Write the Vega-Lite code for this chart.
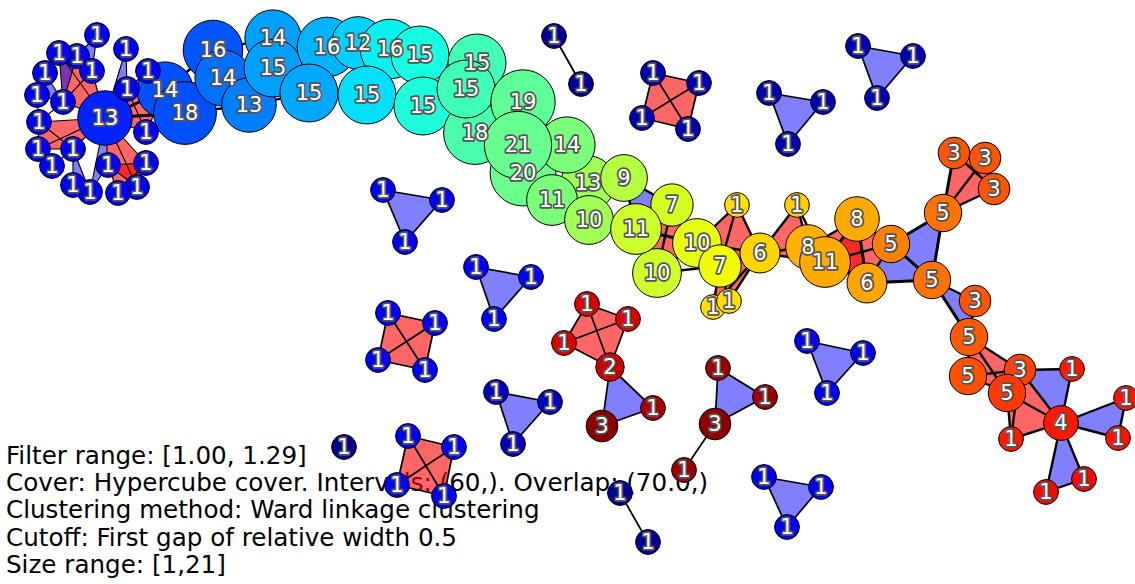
{
  "$schema": "https://vega.github.io/schema/vega-lite/v6.json",
  "width": 1135,
  "height": 584,
  "padding": 0,
  "autosize": {"type": "none"},
  "background": "white",
  "config": {"view": {"stroke": null}},
  "datasets": {
    "nodes": [
      {"id": "L0", "x": 105, "y": 118, "n": 13, "f": 0.158},
      {"id": "C1", "x": 165, "y": 90, "n": 14, "f": 0.204},
      {"id": "C2", "x": 185, "y": 113, "n": 18, "f": 0.204},
      {"id": "C3", "x": 213, "y": 50, "n": 16, "f": 0.208},
      {"id": "C4", "x": 223, "y": 78, "n": 14, "f": 0.235},
      {"id": "C5", "x": 249, "y": 105, "n": 13, "f": 0.25},
      {"id": "C6", "x": 273, "y": 38, "n": 14, "f": 0.282},
      {"id": "C7", "x": 273, "y": 68, "n": 15, "f": 0.282},
      {"id": "C9", "x": 327, "y": 47, "n": 16, "f": 0.302},
      {"id": "C8", "x": 309, "y": 93, "n": 15, "f": 0.29},
      {"id": "C10", "x": 358, "y": 43, "n": 12, "f": 0.33},
      {"id": "C12", "x": 390, "y": 49, "n": 16, "f": 0.36},
      {"id": "C13", "x": 420, "y": 55, "n": 15, "f": 0.375},
      {"id": "C11", "x": 367, "y": 95, "n": 15, "f": 0.345},
      {"id": "C14", "x": 423, "y": 106, "n": 15, "f": 0.385},
      {"id": "C17", "x": 475, "y": 133, "n": 18, "f": 0.44},
      {"id": "C15", "x": 477, "y": 63, "n": 15, "f": 0.428},
      {"id": "C16", "x": 466, "y": 89, "n": 15, "f": 0.428},
      {"id": "C18", "x": 523, "y": 102, "n": 19, "f": 0.465},
      {"id": "C20", "x": 523, "y": 173, "n": 20, "f": 0.48},
      {"id": "C23", "x": 588, "y": 183, "n": 13, "f": 0.545},
      {"id": "C22", "x": 552, "y": 200, "n": 11, "f": 0.5},
      {"id": "C21", "x": 567, "y": 145, "n": 14, "f": 0.5},
      {"id": "C19", "x": 518, "y": 145, "n": 21, "f": 0.474},
      {"id": "C24", "x": 624, "y": 178, "n": 9, "f": 0.569},
      {"id": "C25", "x": 589, "y": 220, "n": 10, "f": 0.545},
      {"id": "C26", "x": 672, "y": 205, "n": 7, "f": 0.607},
      {"id": "C28", "x": 697, "y": 243, "n": 10, "f": 0.63},
      {"id": "C29", "x": 657, "y": 273, "n": 10, "f": 0.6},
      {"id": "C27", "x": 636, "y": 229, "n": 11, "f": 0.598},
      {"id": "C31", "x": 737, "y": 205, "n": 1, "f": 0.673},
      {"id": "C30", "x": 720, "y": 266, "n": 7, "f": 0.643},
      {"id": "C34", "x": 760, "y": 253, "n": 6, "f": 0.684},
      {"id": "C32", "x": 713, "y": 307, "n": 1, "f": 0.673},
      {"id": "C33", "x": 729, "y": 301, "n": 1, "f": 0.673},
      {"id": "C35", "x": 797, "y": 205, "n": 1, "f": 0.69},
      {"id": "C36", "x": 808, "y": 247, "n": 8, "f": 0.724},
      {"id": "C38", "x": 857, "y": 219, "n": 8, "f": 0.73},
      {"id": "C37", "x": 825, "y": 262, "n": 11, "f": 0.73},
      {"id": "C39", "x": 867, "y": 283, "n": 6, "f": 0.735},
      {"id": "C40", "x": 891, "y": 244, "n": 5, "f": 0.776},
      {"id": "C41", "x": 943, "y": 213, "n": 5, "f": 0.79},
      {"id": "C42", "x": 932, "y": 280, "n": 5, "f": 0.79},
      {"id": "C43", "x": 954, "y": 153, "n": 3, "f": 0.82},
      {"id": "C44", "x": 985, "y": 158, "n": 3, "f": 0.82},
      {"id": "C45", "x": 994, "y": 189, "n": 3, "f": 0.82},
      {"id": "C46", "x": 975, "y": 301, "n": 3, "f": 0.82},
      {"id": "C47", "x": 969, "y": 337, "n": 5, "f": 0.815},
      {"id": "C48", "x": 968, "y": 376, "n": 5, "f": 0.826},
      {"id": "C49", "x": 1020, "y": 370, "n": 3, "f": 0.84},
      {"id": "C50", "x": 1007, "y": 393, "n": 5, "f": 0.85},
      {"id": "C51", "x": 1061, "y": 423, "n": 4, "f": 0.885},
      {"id": "C52", "x": 1072, "y": 369, "n": 1, "f": 0.885},
      {"id": "C53", "x": 1126, "y": 398, "n": 1, "f": 0.89},
      {"id": "C54", "x": 1118, "y": 438, "n": 1, "f": 0.89},
      {"id": "C55", "x": 1011, "y": 439, "n": 1, "f": 0.88},
      {"id": "C56", "x": 1084, "y": 479, "n": 1, "f": 0.9},
      {"id": "C57", "x": 1046, "y": 492, "n": 1, "f": 0.9},
      {"id": "L4", "x": 77, "y": 56, "n": 1, "f": 0.125},
      {"id": "L3", "x": 59, "y": 53, "n": 1, "f": 0.125},
      {"id": "L1", "x": 97, "y": 35, "n": 1, "f": 0.125},
      {"id": "L6", "x": 92, "y": 71, "n": 1, "f": 0.125},
      {"id": "L2", "x": 126, "y": 49, "n": 1, "f": 0.125},
      {"id": "L7", "x": 148, "y": 71, "n": 1, "f": 0.125},
      {"id": "L8", "x": 127, "y": 89, "n": 1, "f": 0.125},
      {"id": "L5", "x": 45, "y": 73, "n": 1, "f": 0.125},
      {"id": "L9", "x": 37, "y": 95, "n": 1, "f": 0.125},
      {"id": "L10", "x": 63, "y": 102, "n": 1, "f": 0.125},
      {"id": "L11", "x": 39, "y": 122, "n": 1, "f": 0.125},
      {"id": "L12", "x": 146, "y": 132, "n": 1, "f": 0.125},
      {"id": "L13", "x": 38, "y": 149, "n": 1, "f": 0.125},
      {"id": "L14", "x": 73, "y": 149, "n": 1, "f": 0.125},
      {"id": "L15", "x": 52, "y": 166, "n": 1, "f": 0.125},
      {"id": "L16", "x": 108, "y": 165, "n": 1, "f": 0.125},
      {"id": "L17", "x": 146, "y": 163, "n": 1, "f": 0.125},
      {"id": "L21", "x": 137, "y": 187, "n": 1, "f": 0.125},
      {"id": "L19", "x": 90, "y": 192, "n": 1, "f": 0.125},
      {"id": "L20", "x": 118, "y": 193, "n": 1, "f": 0.125},
      {"id": "L18", "x": 73, "y": 185, "n": 1, "f": 0.125},
      {"id": "A1", "x": 554, "y": 36, "n": 1, "f": 0.02},
      {"id": "A2", "x": 581, "y": 84, "n": 1, "f": 0.02},
      {"id": "Q1a", "x": 653, "y": 73, "n": 1, "f": 0.043},
      {"id": "Q1b", "x": 699, "y": 83, "n": 1, "f": 0.043},
      {"id": "Q1c", "x": 688, "y": 129, "n": 1, "f": 0.043},
      {"id": "Q1d", "x": 642, "y": 118, "n": 1, "f": 0.043},
      {"id": "T1a", "x": 769, "y": 93, "n": 1, "f": 0.043},
      {"id": "T1b", "x": 823, "y": 102, "n": 1, "f": 0.043},
      {"id": "T1c", "x": 788, "y": 144, "n": 1, "f": 0.043},
      {"id": "T2a", "x": 858, "y": 46, "n": 1, "f": 0.046},
      {"id": "T2b", "x": 913, "y": 56, "n": 1, "f": 0.046},
      {"id": "T2c", "x": 877, "y": 98, "n": 1, "f": 0.046},
      {"id": "T3a", "x": 383, "y": 190, "n": 1, "f": 0.1},
      {"id": "T3b", "x": 442, "y": 200, "n": 1, "f": 0.1},
      {"id": "T3c", "x": 405, "y": 242, "n": 1, "f": 0.1},
      {"id": "T4a", "x": 476, "y": 267, "n": 1, "f": 0.11},
      {"id": "T4b", "x": 531, "y": 277, "n": 1, "f": 0.11},
      {"id": "T4c", "x": 494, "y": 319, "n": 1, "f": 0.11},
      {"id": "Q2a", "x": 388, "y": 313, "n": 1, "f": 0.11},
      {"id": "Q2b", "x": 435, "y": 323, "n": 1, "f": 0.11},
      {"id": "Q2c", "x": 425, "y": 370, "n": 1, "f": 0.11},
      {"id": "Q2d", "x": 378, "y": 360, "n": 1, "f": 0.11},
      {"id": "Q3a", "x": 587, "y": 304, "n": 1, "f": 0.92},
      {"id": "Q3b", "x": 628, "y": 319, "n": 1, "f": 0.92},
      {"id": "Q3d", "x": 564, "y": 343, "n": 1, "f": 0.92},
      {"id": "Q3c", "x": 610, "y": 367, "n": 2, "f": 0.935},
      {"id": "T5b", "x": 653, "y": 408, "n": 1, "f": 0.965},
      {"id": "T5c", "x": 602, "y": 426, "n": 3, "f": 0.99},
      {"id": "T6a", "x": 496, "y": 392, "n": 1, "f": 0.06},
      {"id": "T6b", "x": 550, "y": 402, "n": 1, "f": 0.06},
      {"id": "T6c", "x": 513, "y": 444, "n": 1, "f": 0.06},
      {"id": "S1", "x": 344, "y": 447, "n": 1, "f": 0.01},
      {"id": "Q4a", "x": 408, "y": 436, "n": 1, "f": 0.11},
      {"id": "Q4b", "x": 454, "y": 447, "n": 1, "f": 0.11},
      {"id": "Q4c", "x": 444, "y": 496, "n": 1, "f": 0.11},
      {"id": "Q4d", "x": 397, "y": 485, "n": 1, "f": 0.11},
      {"id": "T7a", "x": 718, "y": 368, "n": 1, "f": 0.975},
      {"id": "T7b", "x": 765, "y": 397, "n": 1, "f": 0.975},
      {"id": "T7c", "x": 715, "y": 424, "n": 3, "f": 0.99},
      {"id": "D1", "x": 684, "y": 470, "n": 1, "f": 0.975},
      {"id": "B1", "x": 620, "y": 493, "n": 1, "f": 0.02},
      {"id": "B2", "x": 648, "y": 542, "n": 1, "f": 0.02},
      {"id": "T8a", "x": 807, "y": 341, "n": 1, "f": 0.1},
      {"id": "T8b", "x": 863, "y": 353, "n": 1, "f": 0.1},
      {"id": "T8c", "x": 827, "y": 393, "n": 1, "f": 0.1},
      {"id": "T9a", "x": 764, "y": 477, "n": 1, "f": 0.1},
      {"id": "T9b", "x": 821, "y": 487, "n": 1, "f": 0.1},
      {"id": "T9c", "x": 787, "y": 527, "n": 1, "f": 0.1}
    ],
    "edges": [
      {"a": "L1", "b": "L4", "w": 1}, {"a": "L1", "b": "L6", "w": 1}, {"a": "L4", "b": "L6", "w": 1},
      {"a": "L3", "b": "L4", "w": 1}, {"a": "L3", "b": "L10", "w": 1}, {"a": "L4", "b": "L10", "w": 1},
      {"a": "L3", "b": "L6", "w": 1}, {"a": "L3", "b": "L0", "w": 1}, {"a": "L6", "b": "L0", "w": 1},
      {"a": "L6", "b": "L10", "w": 1}, {"a": "L0", "b": "L10", "w": 1}, {"a": "L5", "b": "L9", "w": 1},
      {"a": "L5", "b": "L10", "w": 1}, {"a": "L9", "b": "L10", "w": 1}, {"a": "L3", "b": "L5", "w": 1},
      {"a": "L2", "b": "L8", "w": 1}, {"a": "L2", "b": "L0", "w": 1}, {"a": "L8", "b": "L0", "w": 1},
      {"a": "L8", "b": "C1", "w": 1}, {"a": "L8", "b": "L12", "w": 1}, {"a": "L12", "b": "C1", "w": 1},
      {"a": "L0", "b": "L12", "w": 1}, {"a": "L7", "b": "L8", "w": 1}, {"a": "L7", "b": "C1", "w": 1},
      {"a": "L11", "b": "L0", "w": 1}, {"a": "L11", "b": "L14", "w": 1}, {"a": "L11", "b": "L13", "w": 1},
      {"a": "L13", "b": "L14", "w": 1}, {"a": "L13", "b": "L0", "w": 1}, {"a": "L14", "b": "L0", "w": 1},
      {"a": "L9", "b": "L11", "w": 1}, {"a": "L10", "b": "L11", "w": 1}, {"a": "L13", "b": "L15", "w": 1},
      {"a": "L14", "b": "L15", "w": 1}, {"a": "L14", "b": "L18", "w": 1}, {"a": "L14", "b": "L19", "w": 1},
      {"a": "L18", "b": "L19", "w": 1}, {"a": "L0", "b": "L19", "w": 1}, {"a": "L0", "b": "L16", "w": 1},
      {"a": "L16", "b": "L19", "w": 1}, {"a": "L0", "b": "L17", "w": 1}, {"a": "L0", "b": "L21", "w": 1},
      {"a": "L16", "b": "L17", "w": 1}, {"a": "L16", "b": "L21", "w": 1}, {"a": "L17", "b": "L21", "w": 1},
      {"a": "L16", "b": "L20", "w": 1}, {"a": "L20", "b": "L21", "w": 1}, {"a": "L17", "b": "L20", "w": 1},
      {"a": "L0", "b": "C1", "w": 4}, {"a": "L0", "b": "C2", "w": 4},
      {"a": "C1", "b": "C2", "w": 3}, {"a": "C1", "b": "C3", "w": 3}, {"a": "C1", "b": "C4", "w": 3},
      {"a": "C2", "b": "C4", "w": 3}, {"a": "C2", "b": "C5", "w": 3}, {"a": "C3", "b": "C4", "w": 3},
      {"a": "C3", "b": "C6", "w": 3}, {"a": "C4", "b": "C5", "w": 3}, {"a": "C4", "b": "C7", "w": 3},
      {"a": "C5", "b": "C7", "w": 3}, {"a": "C5", "b": "C8", "w": 3}, {"a": "C6", "b": "C7", "w": 3},
      {"a": "C6", "b": "C9", "w": 3}, {"a": "C7", "b": "C8", "w": 3}, {"a": "C7", "b": "C9", "w": 3},
      {"a": "C8", "b": "C11", "w": 3}, {"a": "C8", "b": "C9", "w": 3}, {"a": "C9", "b": "C10", "w": 3},
      {"a": "C10", "b": "C12", "w": 3}, {"a": "C10", "b": "C11", "w": 3}, {"a": "C11", "b": "C12", "w": 3},
      {"a": "C11", "b": "C14", "w": 3}, {"a": "C12", "b": "C13", "w": 3}, {"a": "C13", "b": "C14", "w": 3},
      {"a": "C13", "b": "C15", "w": 3}, {"a": "C14", "b": "C16", "w": 3}, {"a": "C15", "b": "C16", "w": 3},
      {"a": "C16", "b": "C17", "w": 3}, {"a": "C16", "b": "C18", "w": 3}, {"a": "C17", "b": "C18", "w": 3},
      {"a": "C17", "b": "C19", "w": 3}, {"a": "C18", "b": "C19", "w": 3}, {"a": "C18", "b": "C21", "w": 3},
      {"a": "C19", "b": "C20", "w": 3}, {"a": "C19", "b": "C21", "w": 3}, {"a": "C20", "b": "C22", "w": 3},
      {"a": "C21", "b": "C23", "w": 3}, {"a": "C22", "b": "C23", "w": 3}, {"a": "C22", "b": "C25", "w": 3},
      {"a": "C23", "b": "C24", "w": 3}, {"a": "C23", "b": "C25", "w": 3}, {"a": "C24", "b": "C26", "w": 3},
      {"a": "C24", "b": "C27", "w": 3}, {"a": "C25", "b": "C27", "w": 3}, {"a": "C26", "b": "C27", "w": 3},
      {"a": "C26", "b": "C28", "w": 3}, {"a": "C27", "b": "C28", "w": 4}, {"a": "C27", "b": "C29", "w": 3},
      {"a": "C28", "b": "C29", "w": 4}, {"a": "C26", "b": "C29", "w": 3}, {"a": "C28", "b": "C30", "w": 3},
      {"a": "C28", "b": "C31", "w": 3}, {"a": "C28", "b": "C34", "w": 3}, {"a": "C30", "b": "C31", "w": 3},
      {"a": "C31", "b": "C34", "w": 3}, {"a": "C30", "b": "C34", "w": 3}, {"a": "C29", "b": "C30", "w": 3},
      {"a": "C30", "b": "C32", "w": 3}, {"a": "C30", "b": "C33", "w": 3}, {"a": "C32", "b": "C33", "w": 3},
      {"a": "C32", "b": "C34", "w": 3}, {"a": "C33", "b": "C34", "w": 3}, {"a": "C34", "b": "C35", "w": 3},
      {"a": "C34", "b": "C36", "w": 3}, {"a": "C34", "b": "C37", "w": 3}, {"a": "C35", "b": "C36", "w": 3},
      {"a": "C35", "b": "C37", "w": 3}, {"a": "C36", "b": "C37", "w": 3}, {"a": "C36", "b": "C38", "w": 3},
      {"a": "C36", "b": "C39", "w": 3}, {"a": "C37", "b": "C38", "w": 4}, {"a": "C37", "b": "C39", "w": 3},
      {"a": "C38", "b": "C39", "w": 4}, {"a": "C38", "b": "C40", "w": 3}, {"a": "C37", "b": "C40", "w": 3},
      {"a": "C39", "b": "C40", "w": 3}, {"a": "C40", "b": "C41", "w": 4}, {"a": "C40", "b": "C42", "w": 4},
      {"a": "C41", "b": "C42", "w": 4}, {"a": "C39", "b": "C42", "w": 4}, {"a": "C41", "b": "C43", "w": 4},
      {"a": "C41", "b": "C44", "w": 3}, {"a": "C41", "b": "C45", "w": 3}, {"a": "C43", "b": "C44", "w": 3},
      {"a": "C43", "b": "C45", "w": 3}, {"a": "C44", "b": "C45", "w": 3}, {"a": "C42", "b": "C46", "w": 3},
      {"a": "C42", "b": "C47", "w": 4}, {"a": "C46", "b": "C47", "w": 3}, {"a": "C47", "b": "C48", "w": 3},
      {"a": "C47", "b": "C49", "w": 3}, {"a": "C47", "b": "C50", "w": 3}, {"a": "C48", "b": "C49", "w": 3},
      {"a": "C48", "b": "C50", "w": 3}, {"a": "C49", "b": "C50", "w": 3}, {"a": "C49", "b": "C51", "w": 3},
      {"a": "C49", "b": "C52", "w": 3}, {"a": "C51", "b": "C52", "w": 3}, {"a": "C49", "b": "C55", "w": 3},
      {"a": "C50", "b": "C51", "w": 3}, {"a": "C50", "b": "C55", "w": 3}, {"a": "C51", "b": "C55", "w": 3},
      {"a": "C51", "b": "C53", "w": 3}, {"a": "C51", "b": "C54", "w": 3}, {"a": "C53", "b": "C54", "w": 3},
      {"a": "C51", "b": "C56", "w": 3}, {"a": "C51", "b": "C57", "w": 3}, {"a": "C56", "b": "C57", "w": 3},
      {"a": "A1", "b": "A2", "w": 2},
      {"a": "Q1a", "b": "Q1b", "w": 2}, {"a": "Q1a", "b": "Q1c", "w": 2}, {"a": "Q1a", "b": "Q1d", "w": 2},
      {"a": "Q1b", "b": "Q1c", "w": 2}, {"a": "Q1b", "b": "Q1d", "w": 2}, {"a": "Q1c", "b": "Q1d", "w": 2},
      {"a": "T1a", "b": "T1b", "w": 2}, {"a": "T1a", "b": "T1c", "w": 2}, {"a": "T1b", "b": "T1c", "w": 2},
      {"a": "T2a", "b": "T2b", "w": 2}, {"a": "T2a", "b": "T2c", "w": 2}, {"a": "T2b", "b": "T2c", "w": 2},
      {"a": "T3a", "b": "T3b", "w": 2}, {"a": "T3a", "b": "T3c", "w": 2}, {"a": "T3b", "b": "T3c", "w": 2},
      {"a": "T4a", "b": "T4b", "w": 2}, {"a": "T4a", "b": "T4c", "w": 2}, {"a": "T4b", "b": "T4c", "w": 2},
      {"a": "Q2a", "b": "Q2b", "w": 2}, {"a": "Q2a", "b": "Q2c", "w": 2}, {"a": "Q2a", "b": "Q2d", "w": 2},
      {"a": "Q2b", "b": "Q2c", "w": 2}, {"a": "Q2b", "b": "Q2d", "w": 2}, {"a": "Q2c", "b": "Q2d", "w": 2},
      {"a": "Q3a", "b": "Q3b", "w": 2}, {"a": "Q3a", "b": "Q3c", "w": 2}, {"a": "Q3a", "b": "Q3d", "w": 2},
      {"a": "Q3b", "b": "Q3c", "w": 2}, {"a": "Q3b", "b": "Q3d", "w": 2}, {"a": "Q3c", "b": "Q3d", "w": 2},
      {"a": "Q3c", "b": "T5b", "w": 2}, {"a": "Q3c", "b": "T5c", "w": 2}, {"a": "T5b", "b": "T5c", "w": 2},
      {"a": "T6a", "b": "T6b", "w": 2}, {"a": "T6a", "b": "T6c", "w": 2}, {"a": "T6b", "b": "T6c", "w": 2},
      {"a": "Q4a", "b": "Q4b", "w": 2}, {"a": "Q4a", "b": "Q4c", "w": 2}, {"a": "Q4a", "b": "Q4d", "w": 2},
      {"a": "Q4b", "b": "Q4c", "w": 2}, {"a": "Q4b", "b": "Q4d", "w": 2}, {"a": "Q4c", "b": "Q4d", "w": 2},
      {"a": "T7a", "b": "T7b", "w": 2}, {"a": "T7a", "b": "T7c", "w": 2}, {"a": "T7b", "b": "T7c", "w": 2},
      {"a": "T7c", "b": "D1", "w": 2}, {"a": "B1", "b": "B2", "w": 2},
      {"a": "T8a", "b": "T8b", "w": 2}, {"a": "T8a", "b": "T8c", "w": 2}, {"a": "T8b", "b": "T8c", "w": 2},
      {"a": "T9a", "b": "T9b", "w": 2}, {"a": "T9a", "b": "T9c", "w": 2}, {"a": "T9b", "b": "T9c", "w": 2}
    ],
    "simplices": [
      {"s": "r1", "kind": "tetra", "k": 0, "node": "L3"}, {"s": "r1", "kind": "tetra", "k": 1, "node": "L6"}, {"s": "r1", "kind": "tetra", "k": 2, "node": "L0"}, {"s": "r1", "kind": "tetra", "k": 3, "node": "L10"},
      {"s": "r2", "kind": "tetra", "k": 0, "node": "L11"}, {"s": "r2", "kind": "tetra", "k": 1, "node": "L0"}, {"s": "r2", "kind": "tetra", "k": 2, "node": "L14"}, {"s": "r2", "kind": "tetra", "k": 3, "node": "L13"},
      {"s": "r3", "kind": "tetra", "k": 0, "node": "L0"}, {"s": "r3", "kind": "tetra", "k": 1, "node": "L8"}, {"s": "r3", "kind": "tetra", "k": 2, "node": "C1"}, {"s": "r3", "kind": "tetra", "k": 3, "node": "L12"},
      {"s": "r4", "kind": "tetra", "k": 0, "node": "L0"}, {"s": "r4", "kind": "tetra", "k": 1, "node": "L17"}, {"s": "r4", "kind": "tetra", "k": 2, "node": "L21"}, {"s": "r4", "kind": "tetra", "k": 3, "node": "L16"},
      {"s": "r5", "kind": "tetra", "k": 0, "node": "L16"}, {"s": "r5", "kind": "tetra", "k": 1, "node": "L17"}, {"s": "r5", "kind": "tetra", "k": 2, "node": "L21"}, {"s": "r5", "kind": "tetra", "k": 3, "node": "L20"},
      {"s": "r6", "kind": "tetra", "k": 0, "node": "C26"}, {"s": "r6", "kind": "tetra", "k": 1, "node": "C28"}, {"s": "r6", "kind": "tetra", "k": 2, "node": "C29"}, {"s": "r6", "kind": "tetra", "k": 3, "node": "C27"},
      {"s": "r7", "kind": "tetra", "k": 0, "node": "C28"}, {"s": "r7", "kind": "tetra", "k": 1, "node": "C31"}, {"s": "r7", "kind": "tetra", "k": 2, "node": "C34"}, {"s": "r7", "kind": "tetra", "k": 3, "node": "C30"},
      {"s": "r8", "kind": "tetra", "k": 0, "node": "C30"}, {"s": "r8", "kind": "tetra", "k": 1, "node": "C34"}, {"s": "r8", "kind": "tetra", "k": 2, "node": "C33"}, {"s": "r8", "kind": "tetra", "k": 3, "node": "C32"},
      {"s": "r9", "kind": "tetra", "k": 0, "node": "C34"}, {"s": "r9", "kind": "tetra", "k": 1, "node": "C35"}, {"s": "r9", "kind": "tetra", "k": 2, "node": "C36"}, {"s": "r9", "kind": "tetra", "k": 3, "node": "C37"},
      {"s": "r10", "kind": "tetra", "k": 0, "node": "C38"}, {"s": "r10", "kind": "tetra", "k": 1, "node": "C40"}, {"s": "r10", "kind": "tetra", "k": 2, "node": "C39"}, {"s": "r10", "kind": "tetra", "k": 3, "node": "C37"},
      {"s": "r11", "kind": "tetra", "k": 0, "node": "C36"}, {"s": "r11", "kind": "tetra", "k": 1, "node": "C38"}, {"s": "r11", "kind": "tetra", "k": 2, "node": "C39"}, {"s": "r11", "kind": "tetra", "k": 3, "node": "C37"},
      {"s": "r12", "kind": "tetra", "k": 0, "node": "C41"}, {"s": "r12", "kind": "tetra", "k": 1, "node": "C43"}, {"s": "r12", "kind": "tetra", "k": 2, "node": "C44"}, {"s": "r12", "kind": "tetra", "k": 3, "node": "C45"},
      {"s": "r13", "kind": "tetra", "k": 0, "node": "C47"}, {"s": "r13", "kind": "tetra", "k": 1, "node": "C49"}, {"s": "r13", "kind": "tetra", "k": 2, "node": "C50"}, {"s": "r13", "kind": "tetra", "k": 3, "node": "C48"},
      {"s": "r14", "kind": "tetra", "k": 0, "node": "C49"}, {"s": "r14", "kind": "tetra", "k": 1, "node": "C51"}, {"s": "r14", "kind": "tetra", "k": 2, "node": "C55"}, {"s": "r14", "kind": "tetra", "k": 3, "node": "C50"},
      {"s": "q1", "kind": "tetra", "k": 0, "node": "Q1a"}, {"s": "q1", "kind": "tetra", "k": 1, "node": "Q1b"}, {"s": "q1", "kind": "tetra", "k": 2, "node": "Q1c"}, {"s": "q1", "kind": "tetra", "k": 3, "node": "Q1d"},
      {"s": "q2", "kind": "tetra", "k": 0, "node": "Q2a"}, {"s": "q2", "kind": "tetra", "k": 1, "node": "Q2b"}, {"s": "q2", "kind": "tetra", "k": 2, "node": "Q2c"}, {"s": "q2", "kind": "tetra", "k": 3, "node": "Q2d"},
      {"s": "q3", "kind": "tetra", "k": 0, "node": "Q3a"}, {"s": "q3", "kind": "tetra", "k": 1, "node": "Q3b"}, {"s": "q3", "kind": "tetra", "k": 2, "node": "Q3c"}, {"s": "q3", "kind": "tetra", "k": 3, "node": "Q3d"},
      {"s": "q4", "kind": "tetra", "k": 0, "node": "Q4a"}, {"s": "q4", "kind": "tetra", "k": 1, "node": "Q4b"}, {"s": "q4", "kind": "tetra", "k": 2, "node": "Q4c"}, {"s": "q4", "kind": "tetra", "k": 3, "node": "Q4d"},
      {"s": "b1", "kind": "tri", "k": 0, "node": "L3"}, {"s": "b1", "kind": "tri", "k": 1, "node": "L4"}, {"s": "b1", "kind": "tri", "k": 2, "node": "L10"},
      {"s": "b2", "kind": "tri", "k": 0, "node": "L5"}, {"s": "b2", "kind": "tri", "k": 1, "node": "L9"}, {"s": "b2", "kind": "tri", "k": 2, "node": "L10"},
      {"s": "b3", "kind": "tri", "k": 0, "node": "L1"}, {"s": "b3", "kind": "tri", "k": 1, "node": "L6"}, {"s": "b3", "kind": "tri", "k": 2, "node": "L4"},
      {"s": "b4", "kind": "tri", "k": 0, "node": "L2"}, {"s": "b4", "kind": "tri", "k": 1, "node": "L8"}, {"s": "b4", "kind": "tri", "k": 2, "node": "L0"},
      {"s": "b5", "kind": "tri", "k": 0, "node": "L14"}, {"s": "b5", "kind": "tri", "k": 1, "node": "L18"}, {"s": "b5", "kind": "tri", "k": 2, "node": "L19"},
      {"s": "b6", "kind": "tri", "k": 0, "node": "L0"}, {"s": "b6", "kind": "tri", "k": 1, "node": "L19"}, {"s": "b6", "kind": "tri", "k": 2, "node": "L16"},
      {"s": "b7", "kind": "tri", "k": 0, "node": "C24"}, {"s": "b7", "kind": "tri", "k": 1, "node": "C26"}, {"s": "b7", "kind": "tri", "k": 2, "node": "C27"},
      {"s": "b8", "kind": "tri", "k": 0, "node": "C40"}, {"s": "b8", "kind": "tri", "k": 1, "node": "C41"}, {"s": "b8", "kind": "tri", "k": 2, "node": "C42"},
      {"s": "b9", "kind": "tri", "k": 0, "node": "C39"}, {"s": "b9", "kind": "tri", "k": 1, "node": "C40"}, {"s": "b9", "kind": "tri", "k": 2, "node": "C42"},
      {"s": "b10", "kind": "tri", "k": 0, "node": "C42"}, {"s": "b10", "kind": "tri", "k": 1, "node": "C46"}, {"s": "b10", "kind": "tri", "k": 2, "node": "C47"},
      {"s": "b11", "kind": "tri", "k": 0, "node": "C49"}, {"s": "b11", "kind": "tri", "k": 1, "node": "C52"}, {"s": "b11", "kind": "tri", "k": 2, "node": "C51"},
      {"s": "b12", "kind": "tri", "k": 0, "node": "C51"}, {"s": "b12", "kind": "tri", "k": 1, "node": "C53"}, {"s": "b12", "kind": "tri", "k": 2, "node": "C54"},
      {"s": "b13", "kind": "tri", "k": 0, "node": "C51"}, {"s": "b13", "kind": "tri", "k": 1, "node": "C56"}, {"s": "b13", "kind": "tri", "k": 2, "node": "C57"},
      {"s": "t1", "kind": "tri", "k": 0, "node": "T1a"}, {"s": "t1", "kind": "tri", "k": 1, "node": "T1b"}, {"s": "t1", "kind": "tri", "k": 2, "node": "T1c"},
      {"s": "t2", "kind": "tri", "k": 0, "node": "T2a"}, {"s": "t2", "kind": "tri", "k": 1, "node": "T2b"}, {"s": "t2", "kind": "tri", "k": 2, "node": "T2c"},
      {"s": "t3", "kind": "tri", "k": 0, "node": "T3a"}, {"s": "t3", "kind": "tri", "k": 1, "node": "T3b"}, {"s": "t3", "kind": "tri", "k": 2, "node": "T3c"},
      {"s": "t4", "kind": "tri", "k": 0, "node": "T4a"}, {"s": "t4", "kind": "tri", "k": 1, "node": "T4b"}, {"s": "t4", "kind": "tri", "k": 2, "node": "T4c"},
      {"s": "t5", "kind": "tri", "k": 0, "node": "Q3c"}, {"s": "t5", "kind": "tri", "k": 1, "node": "T5b"}, {"s": "t5", "kind": "tri", "k": 2, "node": "T5c"},
      {"s": "t6", "kind": "tri", "k": 0, "node": "T6a"}, {"s": "t6", "kind": "tri", "k": 1, "node": "T6b"}, {"s": "t6", "kind": "tri", "k": 2, "node": "T6c"},
      {"s": "t7", "kind": "tri", "k": 0, "node": "T7a"}, {"s": "t7", "kind": "tri", "k": 1, "node": "T7b"}, {"s": "t7", "kind": "tri", "k": 2, "node": "T7c"},
      {"s": "t8", "kind": "tri", "k": 0, "node": "T8a"}, {"s": "t8", "kind": "tri", "k": 1, "node": "T8b"}, {"s": "t8", "kind": "tri", "k": 2, "node": "T8c"},
      {"s": "t9", "kind": "tri", "k": 0, "node": "T9a"}, {"s": "t9", "kind": "tri", "k": 1, "node": "T9b"}, {"s": "t9", "kind": "tri", "k": 2, "node": "T9c"}
    ],
    "notes": [
      {"t": "Filter range: [1.00, 1.29]", "x": 6, "y": 457},
      {"t": "Cover: Hypercube cover. Intervals: (60,). Overlap: (70.0,)", "x": 6, "y": 484},
      {"t": "Clustering method: Ward linkage clustering", "x": 6, "y": 511},
      {"t": "Cutoff: First gap of relative width 0.5", "x": 6, "y": 539},
      {"t": "Size range: [1,21]", "x": 6, "y": 566}
    ]
  },
  "layer": [
    {
      "data": {"name": "notes"},
      "mark": {"type": "text", "align": "left", "baseline": "middle", "font": "DejaVu Sans", "fontSize": 24.6, "color": "black"},
      "encoding": {
        "x": {"field": "x", "type": "quantitative", "scale": {"domain": [0, 1135], "nice": false, "zero": false}, "axis": null},
        "y": {"field": "y", "type": "quantitative", "scale": {"domain": [0, 584], "nice": false, "zero": false, "reverse": true}, "axis": null},
        "text": {"field": "t"}
      }
    },
    {
      "data": {"name": "simplices"},
      "transform": [
        {"filter": "datum.kind === 'tetra'"},
        {"lookup": "node", "from": {"data": {"name": "nodes"}, "key": "id", "fields": ["x", "y"]}}
      ],
      "mark": {"type": "line", "interpolate": "linear-closed", "fill": "#ff0000", "fillOpacity": 0.6, "strokeWidth": 0},
      "encoding": {
        "x": {"field": "x", "type": "quantitative", "scale": {"domain": [0, 1135], "nice": false, "zero": false}, "axis": null},
        "y": {"field": "y", "type": "quantitative", "scale": {"domain": [0, 584], "nice": false, "zero": false, "reverse": true}, "axis": null},
        "detail": {"field": "s"},
        "order": {"field": "k", "type": "quantitative"}
      }
    },
    {
      "data": {"name": "simplices"},
      "transform": [
        {"filter": "datum.kind === 'tri'"},
        {"lookup": "node", "from": {"data": {"name": "nodes"}, "key": "id", "fields": ["x", "y"]}}
      ],
      "mark": {"type": "line", "interpolate": "linear-closed", "fill": "#0000ff", "fillOpacity": 0.5, "strokeWidth": 0},
      "encoding": {
        "x": {"field": "x", "type": "quantitative", "scale": {"domain": [0, 1135], "nice": false, "zero": false}, "axis": null},
        "y": {"field": "y", "type": "quantitative", "scale": {"domain": [0, 584], "nice": false, "zero": false, "reverse": true}, "axis": null},
        "detail": {"field": "s"},
        "order": {"field": "k", "type": "quantitative"}
      }
    },
    {
      "data": {"name": "edges"},
      "transform": [
        {"lookup": "a", "from": {"data": {"name": "nodes"}, "key": "id", "fields": ["x", "y"]}, "as": ["ax", "ay"]},
        {"lookup": "b", "from": {"data": {"name": "nodes"}, "key": "id", "fields": ["x", "y"]}, "as": ["bx", "by"]}
      ],
      "mark": {"type": "rule", "color": "black"},
      "encoding": {
        "x": {"field": "ax", "type": "quantitative", "scale": {"domain": [0, 1135], "nice": false, "zero": false}, "axis": null},
        "y": {"field": "ay", "type": "quantitative", "scale": {"domain": [0, 584], "nice": false, "zero": false, "reverse": true}, "axis": null},
        "x2": {"field": "bx"},
        "y2": {"field": "by"},
        "strokeWidth": {"field": "w", "type": "quantitative", "scale": {"domain": [1, 4], "range": [1.1, 3]}, "legend": null}
      }
    },
    {
      "data": {"name": "nodes"},
      "mark": {"type": "point", "shape": "circle", "filled": true, "opacity": 1, "stroke": "black", "strokeWidth": 1},
      "encoding": {
        "x": {"field": "x", "type": "quantitative", "scale": {"domain": [0, 1135], "nice": false, "zero": false}, "axis": null},
        "y": {"field": "y", "type": "quantitative", "scale": {"domain": [0, 584], "nice": false, "zero": false, "reverse": true}, "axis": null},
        "size": {"field": "n", "type": "quantitative", "scale": {"type": "linear", "domain": [1, 21], "range": [615, 4536], "zero": false}, "legend": null},
        "color": {
          "field": "f", "type": "quantitative", "legend": null,
          "scale": {
            "domain": [0, 0.11, 0.125, 0.34, 0.35, 0.375, 0.5, 0.64, 0.65, 0.66, 0.89, 0.91, 1],
            "range": ["#000080", "#0000ff", "#0000ff", "#00dbff", "#00e6f7", "#15ffe2", "#7bff7b", "#efff08", "#f7f600", "#ffec00", "#ff1300", "#e80000", "#800000"],
            "interpolate": "rgb"
          }
        }
      }
    },
    {
      "data": {"name": "nodes"},
      "mark": {"type": "text", "align": "center", "baseline": "middle", "font": "DejaVu Sans", "fontSize": 21, "dy": 1, "fill": "#555555", "stroke": "#555555", "strokeWidth": 3.5, "strokeJoin": "round"},
      "encoding": {
        "x": {"field": "x", "type": "quantitative", "scale": {"domain": [0, 1135], "nice": false, "zero": false}, "axis": null},
        "y": {"field": "y", "type": "quantitative", "scale": {"domain": [0, 584], "nice": false, "zero": false, "reverse": true}, "axis": null},
        "text": {"field": "n", "type": "quantitative"}
      }
    },
    {
      "data": {"name": "nodes"},
      "mark": {"type": "text", "align": "center", "baseline": "middle", "font": "DejaVu Sans", "fontSize": 21, "dy": 1, "fill": "white"},
      "encoding": {
        "x": {"field": "x", "type": "quantitative", "scale": {"domain": [0, 1135], "nice": false, "zero": false}, "axis": null},
        "y": {"field": "y", "type": "quantitative", "scale": {"domain": [0, 584], "nice": false, "zero": false, "reverse": true}, "axis": null},
        "text": {"field": "n", "type": "quantitative"}
      }
    }
  ]
}
